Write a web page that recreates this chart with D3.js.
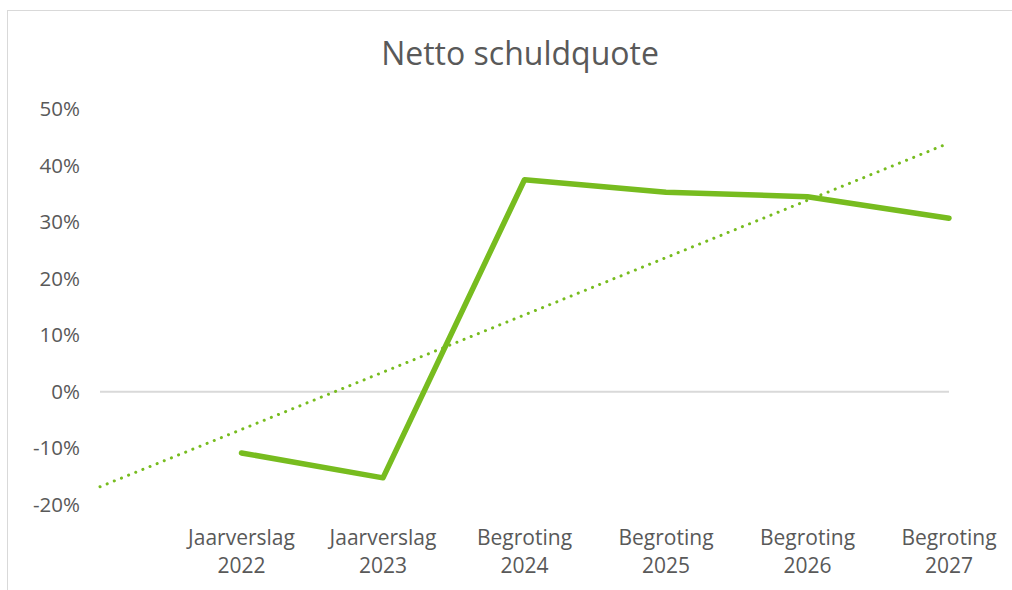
<!DOCTYPE html>
<html lang="en">
<head>
  <meta charset="UTF-8">
  <title>Netto schuldquote</title>
  <script src="https://d3js.org/d3.v7.min.js"></script>
  <style>
    body { margin: 0; background: #fff; }
    svg text { font-family: "Open Sans", sans-serif; fill: #595959; }
  </style>
</head>
<body>
<div id="chart"></div>
<script>
// Data
const categories = ["Jaarverslag 2022", "Jaarverslag 2023", "Begroting 2024", "Begroting 2025", "Begroting 2026", "Begroting 2027"];
const values = [-0.108, -0.152, 0.375, 0.353, 0.345, 0.307];
const yTicks = [-0.2, -0.1, 0, 0.1, 0.2, 0.3, 0.4, 0.5];

const width = 1012, height = 590;
const green = "#77bc1f";

const svg = d3.select("#chart").append("svg")
  .attr("width", width)
  .attr("height", height);

// chart frame (only top and left edges visible in the crop)
svg.append("rect")
  .attr("x", 7.5).attr("y", 10.5)
  .attr("width", 1100).attr("height", 700)
  .attr("fill", "none")
  .attr("stroke", "#d9d9d9")
  .attr("stroke-width", 1);

// x: index 0 is the empty slot the backward trendline reaches into
const x = d3.scaleLinear().domain([0, categories.length]).range([100, 949]);
const y = d3.scaleLinear().domain([-0.2, 0.5]).range([505, 109]);

// title
svg.append("text")
  .attr("x", 520)
  .attr("y", 65)
  .attr("text-anchor", "middle")
  .style("font-size", "32px")
  .text("Netto schuldquote");

// y axis labels
const yAxis = svg.append("g")
  .attr("transform", "translate(80,0)")
  .call(d3.axisLeft(y).tickValues(yTicks).tickSize(0).tickPadding(0)
    .tickFormat(d => Math.round(d * 100) + "%"));
yAxis.select(".domain").remove();
yAxis.attr("font-size", null).attr("font-family", null);
yAxis.selectAll("text")
  .style("font-size", "20.5px")
  .attr("fill", "#595959");

// zero line
svg.append("line")
  .attr("x1", x(0)).attr("x2", x(categories.length))
  .attr("y1", y(0)).attr("y2", y(0))
  .attr("stroke", "#d9d9d9")
  .attr("stroke-width", 2);

// x axis labels (two lines each)
const xLab = svg.append("g").selectAll("text")
  .data(categories)
  .join("text")
  .attr("text-anchor", "middle")
  .attr("transform", (d, i) => `translate(${x(i + 1)},0)`)
  .style("font-size", "21px");
xLab.append("tspan").attr("x", 0).attr("y", 545).text(d => d.split(" ")[0]);
xLab.append("tspan").attr("x", 0).attr("y", 573).text(d => d.split(" ")[1]);

// linear trendline, least squares over the data, forecast back one period
const xs = values.map((v, i) => i + 1);
const mx = d3.mean(xs), my = d3.mean(values);
const slope = d3.sum(xs, (xi, i) => (xi - mx) * (values[i] - my)) / d3.sum(xs, xi => (xi - mx) ** 2);
const icpt = my - slope * mx;
const trendX = [0, categories.length];

svg.append("path")
  .datum(trendX)
  .attr("fill", "none")
  .attr("stroke", green)
  .attr("stroke-width", 3)
  .attr("stroke-linecap", "round")
  .attr("stroke-dasharray", "0.1 7.6")
  .attr("d", d3.line().x(d => x(d)).y(d => y(icpt + slope * d)));

// main series
svg.append("path")
  .datum(values)
  .attr("fill", "none")
  .attr("stroke", green)
  .attr("stroke-width", 5.5)
  .attr("stroke-linejoin", "round")
  .attr("stroke-linecap", "round")
  .attr("d", d3.line().x((d, i) => x(i + 1)).y(d => y(d)));
</script>
</body>
</html>
